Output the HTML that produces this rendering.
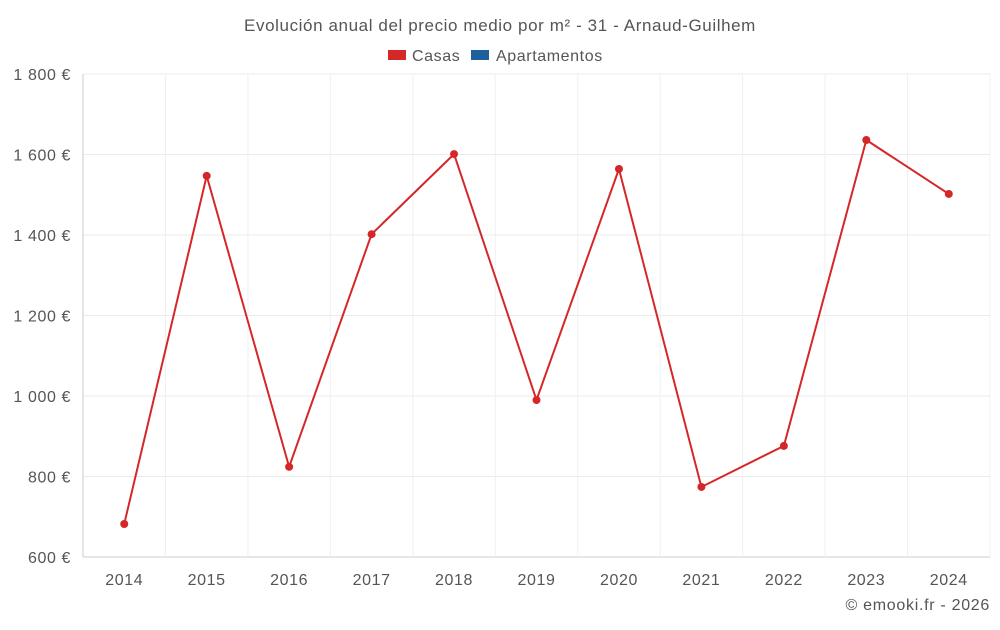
<!DOCTYPE html>
<html><head><meta charset="utf-8"><style>
body{margin:0;background:#fff;font-family:"Liberation Sans",sans-serif;}
svg text{font-family:"Liberation Sans",sans-serif;fill:#555;letter-spacing:0.6px;}
</style></head><body>
<svg id="c" width="1000" height="625">
<text x="500" y="31" text-anchor="middle" font-size="17" style="letter-spacing:0.6px">Evolución anual del precio medio por m² - 31 - Arnaud-Guilhem</text>
<g>
<rect x="388" y="50" width="18" height="10" fill="#d62728"/>
<text x="412" y="61" font-size="16">Casas</text>
<rect x="471" y="50" width="18" height="10" fill="#1f5fa0"/>
<text x="496" y="61" font-size="16">Apartamentos</text>
</g>
<g id="grid"></g><g id="axes"></g><g id="series"></g>
<text x="990" y="610" text-anchor="end" font-size="16" style="letter-spacing:0.7px">© emooki.fr - 2026</text>
</svg>
<script>
const years=[2014,2015,2016,2017,2018,2019,2020,2021,2022,2023,2024];
const casas=[682,1547,824,1402,1601,990,1564,774,876,1636,1502];
const yTicks=[600,800,1000,1200,1400,1600,1800];
const yLabels=["600 €","800 €","1 000 €","1 200 €","1 400 €","1 600 €","1 800 €"];
const NS="http://www.w3.org/2000/svg";
const L=83,R=990,T=74,B=557;
const step=(R-L)/years.length;
const x=i=>L+step*(i+0.5);
const y=v=>B-(v-600)/1200*(B-T);
function mk(t,a,p){const e=document.createElementNS(NS,t);for(const k in a)e.setAttribute(k,a[k]);document.getElementById(p).appendChild(e);return e;}
yTicks.forEach((v,i)=>{
 const g=mk('line',{x1:L,x2:R,y1:y(v),y2:y(v),stroke:i==0?'#ccc':'#ebebeb'},'grid');
 
 
 const t=mk('text',{x:71,y:y(v)+6,'text-anchor':'end','font-size':16},'axes');t.textContent=yLabels[i];
 
 
});
for(let i=0;i<=years.length;i++){
 const g=mk('line',{x1:L+step*i,x2:L+step*i,y1:T,y2:B,stroke:i==0?'#ccc':'#f0f0f0'},'grid');
 
 
}
years.forEach((yr,i)=>{
 const t=mk('text',{x:x(i),y:585,'text-anchor':'middle','font-size':16},'axes');t.textContent=yr;
 
 
});
const line=mk('polyline',{points:casas.map((v,i)=>x(i)+','+y(v)).join(' '),fill:'none',stroke:'#d62728','stroke-width':2},'series');


casas.forEach((v,i)=>{
 const c=mk('circle',{cx:x(i),cy:y(v),r:4,fill:'#d62728'},'series');
 
 
});
</script>
</body></html>
